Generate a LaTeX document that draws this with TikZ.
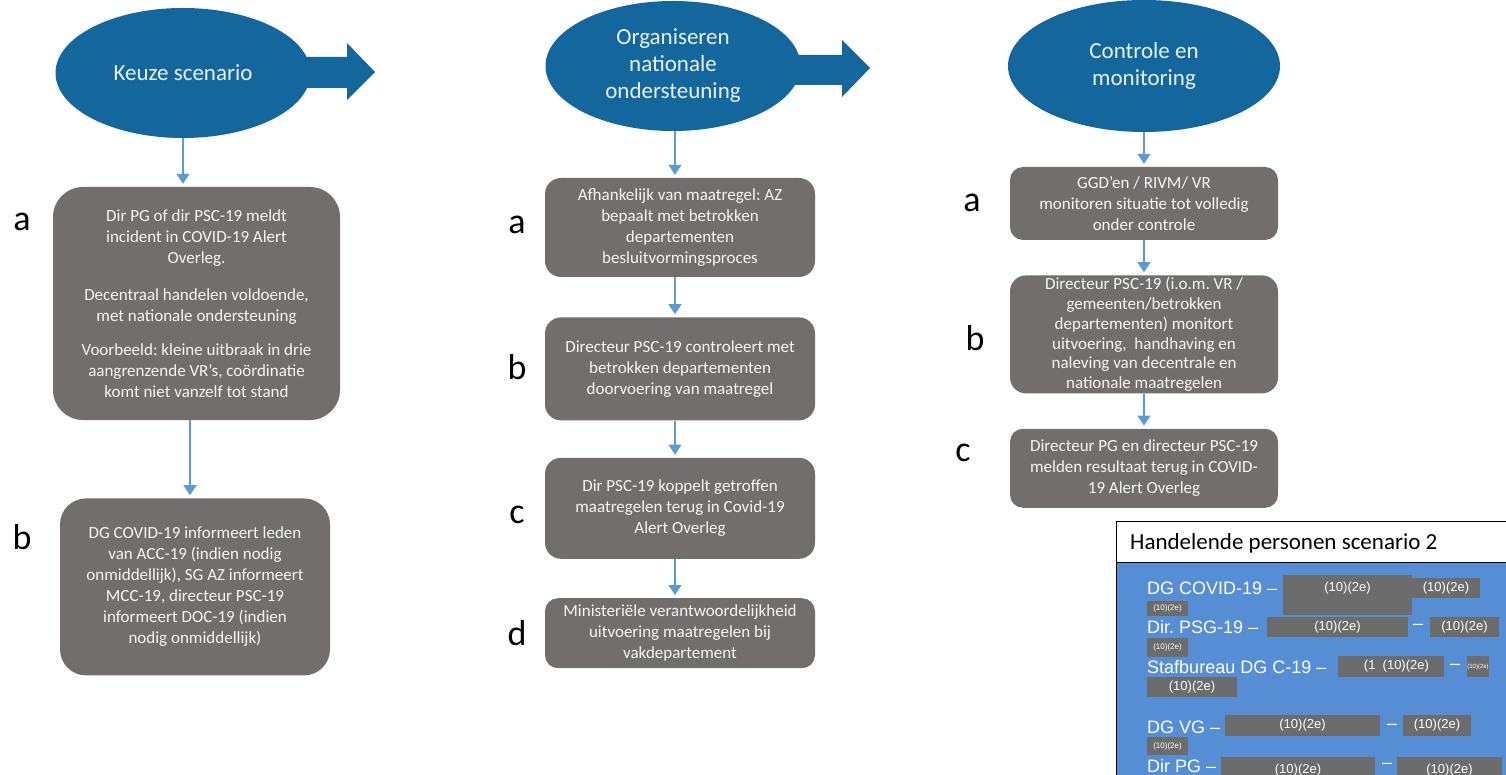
\documentclass[tikz,border=0pt]{standalone}
\usepackage{fontspec}
\setmainfont{Carlito}
\newfontfamily\arialfont{Liberation Sans}
\usetikzlibrary{positioning,shapes.geometric,arrows.meta}

\definecolor{phaseblue}{RGB}{20,103,157}
\definecolor{stepgray}{RGB}{113,110,109}
\definecolor{flowblue}{RGB}{91,155,213}
\definecolor{panelblue}{RGB}{85,142,213}
\definecolor{redgray}{RGB}{108,108,108}

\tikzset{
  phase/.style={ellipse, fill=phaseblue, text=white!90!phaseblue, inner sep=0pt,
    align=center, font=\fontsize{23}{27}\selectfont},
  stepbox/.style={rectangle, rounded corners=#1, fill=stepgray, text=white!94!stepgray,
    minimum width=270pt, align=center, inner sep=0pt, font=\fontsize{17}{21}\selectfont},
  stepbox/.default=16pt,
  flow/.style={color=flowblue, line width=1.2pt, -{Triangle[width=13pt,length=10pt]}, shorten >=3pt},
  letter/.style={font=\fontsize{36}{40}\selectfont, inner sep=0pt},
  redact/.style={fill=redgray, text=white, inner sep=0pt, font=\arialfont\fontsize{13}{13}\selectfont},
  person/.style={anchor=west, text=white, inner sep=0pt, font=\arialfont\fontsize{18}{20}\selectfont},
}
\frenchspacing

\begin{document}
\begin{tikzpicture}[x=1pt, y=-1pt]
    \clip (0,0) rectangle (1506,775);

    % phase arrows
    \fill[phaseblue] (300,57) -- (347,57) -- (347,43) -- (375,72) -- (347,100) -- (347,88) -- (300,88) -- cycle;
    \fill[phaseblue] (790,55) -- (842,55) -- (842,40) -- (870,68) -- (842,97) -- (842,85) -- (790,85) -- cycle;

    % phases
    \node (e1) [phase, minimum width=255pt, minimum height=130pt] at (183,73) {Keuze scenario};
    \node (e2) [phase, minimum width=255pt, minimum height=130pt] at (673,66) {Organiseren\\nationale\\ondersteuning};
    \node (e3) [phase, minimum width=272pt, minimum height=132pt] at (1144,66) {Controle en\\monitoring};

    % column 1
    \node (1a) [stepbox=30pt, minimum width=287pt, minimum height=233pt] at (196.5,303.5)
        {Dir PG of dir PSC-19 meldt\\incident in COVID-19 Alert\\Overleg.\\[16pt]
         Decentraal handelen voldoende,\\met nationale ondersteuning\\[13pt]
         Voorbeeld: kleine uitbraak in drie\\aangrenzende VR’s, coördinatie\\komt niet vanzelf tot stand};
    \node (1b) [stepbox=26pt, minimum height=177pt, below=78pt of 1a.south, anchor=north, xshift=-1.5pt]
        {DG COVID-19 informeert leden\\van ACC-19 (indien nodig\\onmiddellijk), SG AZ informeert\\MCC-19, directeur PSC-19\\informeert DOC-19 (indien\\nodig onmiddellijk)};

    % column 2
    \node (2a) [stepbox, minimum height=99pt] at (680,227.5)
        {Afhankelijk van maatregel: AZ\\bepaalt met betrokken\\departementen\\besluitvormingsproces};
    \node (2b) [stepbox, minimum height=103pt, below=40pt of 2a]
        {Directeur PSC-19 controleert met\\betrokken departementen\\doorvoering van maatregel};
    \node (2c) [stepbox, minimum height=101pt, below=37pt of 2b]
        {Dir PSC-19 koppelt getroffen\\maatregelen terug in Covid-19\\Alert Overleg};
    \node (2d) [stepbox=13pt, minimum height=70pt, below=39pt of 2c]
        {Ministeriële verantwoordelijkheid\\uitvoering maatregelen bij\\vakdepartement};

    % column 3
    \node (3a) [stepbox=13pt, minimum width=268pt, minimum height=73pt] at (1144,203.5)
        {GGD’en / RIVM/ VR\\monitoren situatie tot volledig\\onder controle};
    \node (3b) [stepbox, minimum width=268pt, minimum height=118pt, below=35pt of 3a,
        font=\fontsize{17}{19.7}\selectfont]
        {Directeur PSC-19 (i.o.m. VR /\\gemeenten/betrokken\\departementen) monitort\\uitvoering,\ \ handhaving en\\naleving van decentrale en\\nationale maatregelen};
    \node (3c) [stepbox=13pt, minimum width=268pt, minimum height=79pt, below=35pt of 3b]
        {Directeur PG en directeur PSC-19\\melden resultaat terug in COVID-\\19 Alert Overleg};

    % letters
    \node (la1) [letter] at (22,222) {a};
    \node (lb1) [letter] at (22,537) {b};
    \node (la2) [letter] at (517,225) {a};
    \node (lb2) [letter] at (517,367) {b};
    \node (lc2) [letter] at (517,515) {c};
    \node (ld2) [letter] at (517,633) {d};
    \node (la3) [letter] at (972,203) {a};
    \node (lb3) [letter] at (975,338) {b};
    \node (lc3) [letter] at (963,453) {c};

    % flow
    \path[flow] (e1.south) edge (e1.south |- 1a.north)
                ([xshift=-5pt]1b.north |- 1a.south) edge ([xshift=-5pt]1b.north)
                ([xshift=-5pt]2a.north |- e2.south) edge ([xshift=-5pt]2a.north)
                ([xshift=-5pt]2a.south) edge ([xshift=-5pt]2b.north)
                ([xshift=-5pt]2b.south) edge ([xshift=-5pt]2c.north)
                ([xshift=-5pt]2c.south) edge ([xshift=-5pt]2d.north)
                (3a.north |- e3.south) edge (3a.north)
                (3a.south) edge (3b.north)
                (3b.south) edge (3c.north);

    % persons panel
    \draw[line width=0.8pt, fill=white] (1116,521) rectangle (1512,562);
    \draw[line width=0.8pt, fill=panelblue] (1116,562) rectangle (1512,780);
    \node (title) [anchor=west, inner sep=0pt, font=\fontsize{23}{27}\selectfont] at (1130,543) {Handelende personen scenario 2};

    \node (p1) [person] at (1147,588) {DG COVID-19 –};
    \node (rA) [redact, minimum width=129pt, minimum height=40pt, anchor=north] at (1347.5,575) {};
    \node (rAt) [text=white, inner sep=0pt, font=\arialfont\fontsize{13}{13}\selectfont] at (1347.5,588) {(10)(2e)};
    \node (rB) [redact, minimum width=68pt, minimum height=20pt] at (1446,588) {(10)(2e)};
    \node (rC) [redact, minimum width=41pt, minimum height=15pt, font=\arialfont\fontsize{8}{8}\selectfont] at (1167.5,608.5) {(10)(2e)};

    \node (p2) [person] at (1147,627) {Dir.\ PSG-19 –};
    \node (rD) [redact, minimum width=141pt, minimum height=20pt] at (1337.5,627) {(10)(2e)};
    \node (d2) [person, anchor=center] at (1418,627) {–};
    \node (rE) [redact, minimum width=69pt, minimum height=20pt] at (1464.5,627) {(10)(2e)};
    \node (rF) [redact, minimum width=41pt, minimum height=19pt, font=\arialfont\fontsize{8}{8}\selectfont] at (1167.5,647.5) {(10)(2e)};

    \node (p3) [person] at (1147,667) {Stafbureau DG C-19 –};
    \node (rG) [redact, minimum width=106pt, minimum height=21pt] at (1391,666.5) {\ \ \ (1\ \ (10)(2e)};
    \node (d3) [person, anchor=center] at (1455,667) {–};
    \node (rH) [redact, minimum width=21pt, minimum height=21pt, font=\arialfont\fontsize{6}{6}\selectfont] at (1478,666.5) {(10)(2e)};
    \node (rI) [redact, minimum width=90pt, minimum height=20pt] at (1192,687) {(10)(2e)};

    \node (p4) [person] at (1147,727) {DG VG –};
    \node (rJ) [redact, minimum width=155pt, minimum height=21pt] at (1302.5,725.5) {(10)(2e)};
    \node (d4) [person, anchor=center] at (1392,727) {–};
    \node (rK) [redact, minimum width=68pt, minimum height=21pt] at (1437,725.5) {(10)(2e)};
    \node (rL) [redact, minimum width=41pt, minimum height=18pt, font=\arialfont\fontsize{8}{8}\selectfont] at (1167.5,746) {(10)(2e)};

    \node (p5) [person] at (1147,766) {Dir PG –};
    \node (rM) [redact, minimum width=154pt, minimum height=26pt, anchor=north] at (1298,757) {(10)(2e)};
    \node (d5) [person, anchor=center] at (1387,766) {–};
    \node (rN) [redact, minimum width=105pt, minimum height=26pt, anchor=north] at (1449.5,757) {(10)(2e)};
\end{tikzpicture}
\end{document}
